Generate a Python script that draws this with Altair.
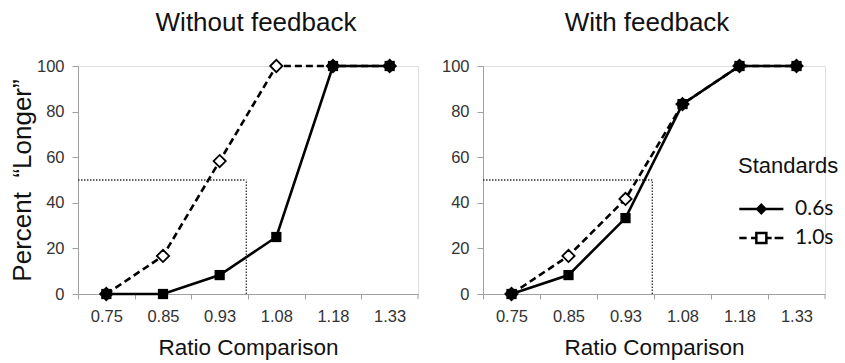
import altair as alt
import pandas as pd

# ---- data ----
ratios = ["0.75", "0.85", "0.93", "1.08", "1.18", "1.33"]
series = ["0.6s", "1.0s"]
panel_titles = ["Without feedback", "With feedback"]
no_fb_06 = [0, 0, 8.3, 25, 100, 100]
no_fb_10 = [0, 16.7, 58.3, 100, 100, 100]
fb_06 = [0, 8.3, 33.3, 83.3, 100, 100]
fb_10 = [0, 16.7, 41.7, 83.3, 100, 100]
threshold_pos = 2.47   # category position of ratio 1.0 (between 0.93 and 1.08)
threshold_pct = 50

FONT = "Liberation Sans"
LEG_FONT = "Lato"
PANEL_H = 228
AXIS_GRAY = "#a0a0a0"

def make_df(v06, v10):
    rows = []
    for s, vals in zip(series, [v06, v10]):
        for i, (r, v) in enumerate(zip(ratios, vals)):
            rows.append({"idx": i, "ratio": r, "pct": v, "series": s})
    return pd.DataFrame(rows)

# ticks at category left edges; each label is shifted into the band right of its tick
tick_vals = [i - 0.5 for i in range(len(ratios))]
end_edge = len(ratios) - 0.5
label_expr = "''"
for i in reversed(range(len(ratios))):
    label_expr = f"datum.value < {i} ? '{ratios[i]}' : ({label_expr})"

# legend symbols: line + marker (path units; drawn from x=-1 to x=2)
path06 = "M-1,0H2M0.5,-0.28L0.78,0L0.5,0.28L0.22,0Z"
path10 = ("M-1,0H-0.5M-0.2,0H0.16M0.84,0H1.2M1.4,0H2"
          "M0.16,-0.34H0.84V0.34H0.16Z")


def panel(df, title, ytitle, with_legend, width, title_dx):
    band_px = width / len(ratios)
    x = alt.X(
        "idx:Q",
        scale=alt.Scale(domain=[-0.5, end_edge], nice=False, zero=False),
        axis=alt.Axis(
            values=tick_vals,
            labelExpr=label_expr,
            labelOffset=band_px / 2,
            labelAlign="center",
            labelOverlap=False,
            labelFlush=False,
            grid=False,
            tickSize=5,
            domainColor=AXIS_GRAY,
            tickColor=AXIS_GRAY,
            labelFont=FONT,
            labelFontSize=16.5,
            labelColor="#333333",
            labelPadding=9,
            title="Ratio Comparison",
            titleFont=FONT,
            titleFontSize=22.5,
            titleFontWeight="normal",
            titleColor="#111111",
            titlePadding=12,
        ),
    )
    yaxis_kwargs = dict(
        values=[0, 20, 40, 60, 80, 100],
        grid=False,
        tickSize=6,
        domainColor=AXIS_GRAY,
        tickColor=AXIS_GRAY,
        labelFont=FONT,
        labelFontSize=16.5,
        labelColor="#333333",
        labelPadding=8,
    )
    if ytitle:
        yaxis_kwargs.update(
            title=ytitle, titleFont=FONT, titleFontSize=26, titleFontWeight="normal",
            titleColor="#111111", titlePadding=1,
        )
    else:
        yaxis_kwargs.update(title=None)
    y = alt.Y("pct:Q", scale=alt.Scale(domain=[0, 100], nice=False), axis=alt.Axis(**yaxis_kwargs))

    base = alt.Chart(df)
    ref = pd.DataFrame({"x0": [-0.5], "x1": [threshold_pos], "y0": [0], "y1": [threshold_pct],
                        "edge": [end_edge]})
    hrule = alt.Chart(ref).mark_rule(color="#333333", strokeWidth=1.3, strokeDash=[1.5, 1.5]).encode(
        x=alt.X("x0:Q"), x2="x1:Q", y=alt.Y("y1:Q"))
    vrule = alt.Chart(ref).mark_rule(color="#333333", strokeWidth=1.3, strokeDash=[1.5, 1.5]).encode(
        x=alt.X("x1:Q"), y=alt.Y("y0:Q"), y2="y1:Q")
    # closing axis tick at the right edge of the last category
    end_tick = alt.Chart(ref).mark_rule(color=AXIS_GRAY, strokeWidth=1).encode(
        x=alt.X("edge:Q"), y=alt.value(PANEL_H), y2=alt.value(PANEL_H + 5))

    line10 = base.transform_filter(alt.datum.series == series[1]).mark_line(
        color="black", strokeWidth=2.6, strokeDash=[7, 4]).encode(x=x, y=y)
    line06 = base.transform_filter(alt.datum.series == series[0]).mark_line(
        color="black", strokeWidth=2.6).encode(x=x, y=y)
    pts10 = base.transform_filter(alt.datum.series == series[1]).mark_point(
        shape="diamond", filled=True, fill="white", stroke="black", strokeWidth=1.8,
        size=150, opacity=1).encode(x=x, y=y)
    pts06 = base.transform_filter(alt.datum.series == series[0]).mark_point(
        shape="square", filled=True, color="black", size=105, opacity=1).encode(x=x, y=y)

    layers = [hrule, vrule, end_tick, line10, line06, pts10, pts06]
    if with_legend:
        leg = alt.Legend(
            title="Standards", orient="none", legendX=660, legendY=90, padding=0,
            titleFont=FONT, titleFontSize=22, titleFontWeight="normal", titleColor="#111111",
            labelFont=LEG_FONT, labelFontSize=21, labelColor="#111111",
            symbolSize=864, symbolStrokeWidth=2.5, labelOffset=25, rowPadding=3,
            titlePadding=15,
        )
        legend_layer = base.transform_filter("false").mark_point(
            stroke="black", strokeWidth=2.5, size=864, opacity=1, filled=True).encode(
            x=x, y=y,
            shape=alt.Shape("series:N", scale=alt.Scale(domain=series, range=[path06, path10]), legend=leg),
            fill=alt.Fill("series:N", scale=alt.Scale(domain=series, range=["black", "white"]), legend=leg),
        )
        layers.append(legend_layer)

    return alt.layer(*layers).properties(
        width=width, height=PANEL_H,
        title=alt.TitleParams(title, font=FONT, fontSize=26, fontWeight="normal", color="#111111",
                              anchor="middle", offset=20, dx=title_dx),
    )


left = panel(make_df(no_fb_06, no_fb_10), panel_titles[0], "Percent\u00a0\u00a0\u201cLonger\u201d",
             False, 340, 8)
right = panel(make_df(fb_06, fb_10), panel_titles[1], None, True, 342, -7)

chart = alt.hconcat(left, right, spacing=21).properties(
    padding={"left": 8, "top": 9, "right": 0, "bottom": 0}
).configure_view(stroke=None).configure(background="white")

chart.save("out.html", embed_options={"renderer": "svg", "actions": False})
